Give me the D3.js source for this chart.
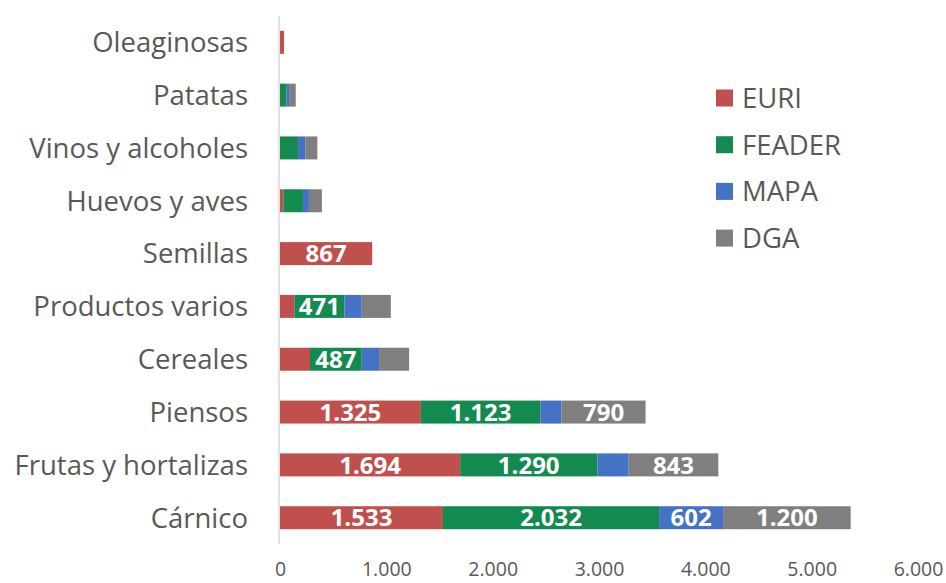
<!DOCTYPE html>
<html><head><meta charset="utf-8">
<script src="https://cdn.jsdelivr.net/npm/d3@7"></script>
<style>body{margin:0;background:#fff}svg{display:block}</style>
</head><body>
<svg id="c" width="946" height="583"></svg>
<script>
const categories = ["Oleaginosas","Patatas","Vinos y alcoholes","Huevos y aves","Semillas","Productos varios","Cereales","Piensos","Frutas y hortalizas","Cárnico"];
const seriesNames = ["EURI","FEADER","MAPA","DGA"];
const EURI   = [38, 0, 0, 31, 867, 135, 282, 1325, 1694, 1533];
const FEADER = [0, 60, 169, 185, 0, 471, 487, 1123, 1290, 2032];
const MAPA   = [0, 25, 69, 56, 0, 163, 163, 200, 295, 602];
const DGA    = [0, 63, 113, 122, 0, 273, 282, 790, 843, 1200];
const tickValues = [0,1000,2000,3000,4000,5000,6000];
const colors = ["#C0504D","#138A50","#4472C4","#7F7F7F"];
const labelMin = 450;

const rows = categories.map((c,i)=>({cat:c, EURI:EURI[i], FEADER:FEADER[i], MAPA:MAPA[i], DGA:DGA[i]}));
const stack = d3.stack().keys(seriesNames)(rows);

const svg = d3.select("#c");
const font = "'Open Sans', sans-serif";
const x = d3.scaleLinear().domain([0,6000]).range([280,918]);
const y = d3.scaleBand().domain(categories).range([16,544]).paddingInner(0.565).paddingOuter(0.28);

const fmt = v => d3.format(",")(v).replace(/,/g,".");

// axis line
svg.append("line").attr("x1",279).attr("x2",279).attr("y1",16).attr("y2",544)
  .attr("stroke","#D9D9D9").attr("stroke-width",1.5);

const g = svg.append("g");
stack.forEach((s,si)=>{
  g.selectAll(null).data(s).enter().append("rect")
    .attr("x",d=>x(d[0])).attr("width",d=>x(d[1])-x(d[0]))
    .attr("y",d=>y(d.data.cat)).attr("height",y.bandwidth())
    .attr("fill",colors[si]);
});
stack.forEach((s,si)=>{
  g.selectAll(null).data(s.filter(d=>d[1]-d[0]>=labelMin)).enter().append("text")
    .attr("x",d=>(x(d[0])+x(d[1]))/2).attr("y",d=>y(d.data.cat)+y.bandwidth()/2)
    .attr("dy","0.36em").attr("text-anchor","middle")
    .attr("fill","#fff").attr("font-weight","bold").attr("font-size",24).attr("font-family",font)
    .text(d=>fmt(d[1]-d[0]));
});

// category labels
svg.append("g").selectAll("text").data(categories).enter().append("text")
  .attr("x",248).attr("y",d=>y(d)+y.bandwidth()/2).attr("dy","0.36em")
  .attr("text-anchor","end").attr("font-size",27.5).attr("font-family",font).attr("fill","#595959")
  .text(d=>d);

// x axis
const xa = svg.append("g").attr("transform","translate(0,569)")
  .call(d3.axisBottom(x).tickValues(tickValues).tickFormat(fmt).tickSize(0).tickPadding(0));
xa.select(".domain").remove();
xa.selectAll("text").attr("font-size",19.5).attr("font-family",font).attr("fill","#595959")
  .attr("dy","0.36em").attr("y",0);

// legend
const lg = svg.append("g");
seriesNames.forEach((n,i)=>{
  const cy = 98 + i*46.7;
  lg.append("rect").attr("x",716).attr("y",cy-8.5).attr("width",17).attr("height",17).attr("fill",colors[i]);
  lg.append("text").attr("x",742).attr("y",cy).attr("dy","0.36em").attr("font-size",27.5)
    .attr("font-family",font).attr("fill","#595959").text(n);
});
</script>
</body></html>
